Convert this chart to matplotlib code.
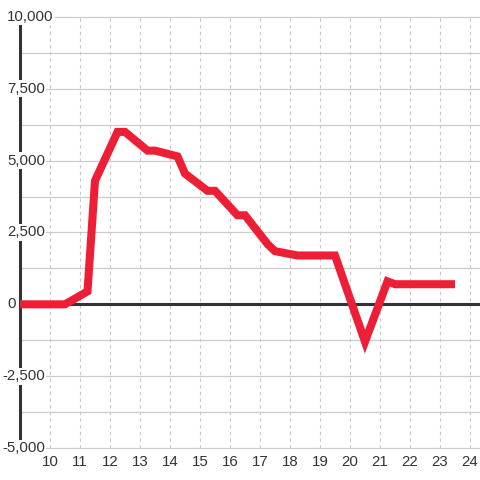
import matplotlib.pyplot as plt

hours = [9, 10.5, 11.25, 11.5, 12.25, 12.5, 13.25, 13.5, 14.25, 14.5, 15.25, 15.5,
         16.25, 16.5, 17.25, 17.5, 18.25, 19.5, 20.5, 21.25, 21.5, 23.5]
values = [0, 0, 450, 4300, 6000, 6000, 5350, 5350, 5150, 4550, 3950, 3950,
          3100, 3100, 2100, 1850, 1700, 1700, -1300, 800, 700, 700]

x_ticks = list(range(10, 25))
y_ticks = [10000, 7500, 5000, 2500, 0, -2500, -5000]
y_grid = [-5000 + 1250 * i for i in range(13)]

plt.rcParams['font.family'] = ['Liberation Sans', 'DejaVu Sans']

fig = plt.figure(figsize=(4.8, 4.8), dpi=100)
ax = fig.add_axes([0, 0, 1, 1])
ax.set_xlim(10 - 50 / 30, 10 + 430 / 30)
ax.set_ylim(-5000 - 32 / 0.02873, 10000 + 17 / 0.02873)
ax.axis('off')

# grid
for y in y_grid:
    ax.plot([9, 25], [y, y], color='#cccccc', lw=0.9, zorder=1)
for x in x_ticks:
    ax.plot([x, x], [-5000, 10000], color='#c8c8c8', lw=0.8,
            linestyle=(0, (3, 3)), zorder=1)

# zero line and y axis bar
ax.plot([9, 25], [0, 0], color='#333333', lw=2.2, zorder=2)
ax.plot([9, 9], [-5000, 10000], color='#333333', lw=2.2, zorder=2)

ax.plot(hours, values, color='#ed1f36', lw=5.8, solid_joinstyle='miter',
        solid_capstyle='butt', zorder=3)

# y labels
for v in y_ticks:
    lab = f'{v:,}'
    px = 2 if v < 0 else 7
    ax.text(10 - (50 - px) / 30, v, lab, ha='left', va='center', fontsize=10.8,
            color='#333333', zorder=4,
            bbox=dict(facecolor='white', edgecolor='none', pad=1))

# x labels
for x in x_ticks:
    ax.text(x, -5000 - 14 / 0.02873, str(x), ha='center', va='center',
            fontsize=10.8, color='#333333')

fig.savefig('out.png', dpi=100)
